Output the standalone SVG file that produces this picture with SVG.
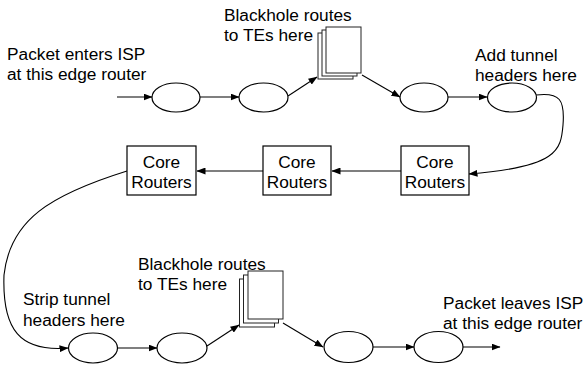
<svg xmlns="http://www.w3.org/2000/svg" width="588" height="366" viewBox="0 0 588 366">
<style>
text{font-family:"Liberation Sans",Arial,sans-serif;font-size:17.3px;fill:#000}
.n{fill:#fff;stroke:#000;stroke-width:1.2}
.d{fill:#fff;stroke:#222;stroke-width:1}
.c{fill:none;stroke:#000;stroke-width:1.1;marker-end:url(#ah)}
.m{text-anchor:middle}
</style>
<defs>
<marker id="ah" markerWidth="9" markerHeight="7" refX="8.5" refY="3.5" orient="auto" markerUnits="userSpaceOnUse">
<path d="M0,0 L9,3.5 L0,7 z" fill="#000"/>
</marker>
</defs>
<rect width="588" height="366" fill="#fff"/>
<g id="labels">
<text x="7" y="60">Packet enters ISP</text>
<text x="7" y="80">at this edge router</text>
<text x="224" y="21">Blackhole routes</text>
<text x="224" y="41">to TEs here</text>
<text x="475" y="61">Add tunnel</text>
<text x="475" y="81">headers here</text>
<text x="138" y="270">Blackhole routes</text>
<text x="138" y="290">to TEs here</text>
<text x="23" y="305">Strip tunnel</text>
<text x="23" y="326">headers here</text>
<text x="443" y="309">Packet leaves ISP</text>
<text x="443" y="329">at this edge router</text>
</g>
<g id="connectors">
<path class="c" d="M117,97 L152,97"/>
<path class="c" d="M200,97 L239,97"/>
<path class="c" d="M288,96 L317,77"/>
<path class="c" d="M362,75 L400,97"/>
<path class="c" d="M448,97 L487,97"/>
<path class="c" d="M536,95 C560,92 565,100 563,125 C561,150 558,167 469,174"/>
<path class="c" d="M401,171 L332,171"/>
<path class="c" d="M263,171 L197,171"/>
<path class="c" d="M127,171 C50,195 10,220 4,275 C2,330 20,352 68,348"/>
<path class="c" d="M117,348 L157,348"/>
<path class="c" d="M207,346 L239,325"/>
<path class="c" d="M283,323 L323,347"/>
<path class="c" d="M373,347 L414,347"/>
<path class="c" d="M463,347 L500,347"/>
</g>
<g id="edge-in"><ellipse class="n" cx="176" cy="97.5" rx="24" ry="14.5"/></g>
<g id="router-a2"><ellipse class="n" cx="263.5" cy="97.5" rx="24.5" ry="14.5"/></g>
<g id="te-top">
<rect class="d" x="318" y="33" width="35" height="46"/>
<rect class="d" x="322" y="30" width="35" height="46"/>
<rect class="d" x="326" y="27" width="35" height="46"/>
</g>
<g id="router-a3"><ellipse class="n" cx="424" cy="97.5" rx="24" ry="14.5"/></g>
<g id="tunnel-head"><ellipse class="n" cx="512" cy="97.5" rx="24.5" ry="14.5"/></g>
<g id="core3"><rect class="n" x="401" y="146" width="68" height="49"/><text class="m" x="435" y="168">Core</text><text class="m" x="435" y="188">Routers</text></g>
<g id="core2"><rect class="n" x="263" y="146" width="68" height="49"/><text class="m" x="297" y="168">Core</text><text class="m" x="297" y="188">Routers</text></g>
<g id="core1"><rect class="n" x="127" y="146" width="69" height="49"/><text class="m" x="161.5" y="168">Core</text><text class="m" x="161.5" y="188">Routers</text></g>
<g id="tunnel-tail"><ellipse class="n" cx="93" cy="348" rx="24.5" ry="15"/></g>
<g id="router-b2"><ellipse class="n" cx="182" cy="348" rx="25" ry="15"/></g>
<g id="te-bottom">
<rect class="d" x="239.5" y="279" width="35" height="48"/>
<rect class="d" x="243.5" y="275" width="35" height="48"/>
<rect class="d" x="248" y="271" width="35" height="48"/>
</g>
<g id="router-b3"><ellipse class="n" cx="348.5" cy="347" rx="24.5" ry="15.5"/></g>
<g id="edge-out"><ellipse class="n" cx="438.5" cy="347" rx="24.5" ry="15.5"/></g>
</svg>
